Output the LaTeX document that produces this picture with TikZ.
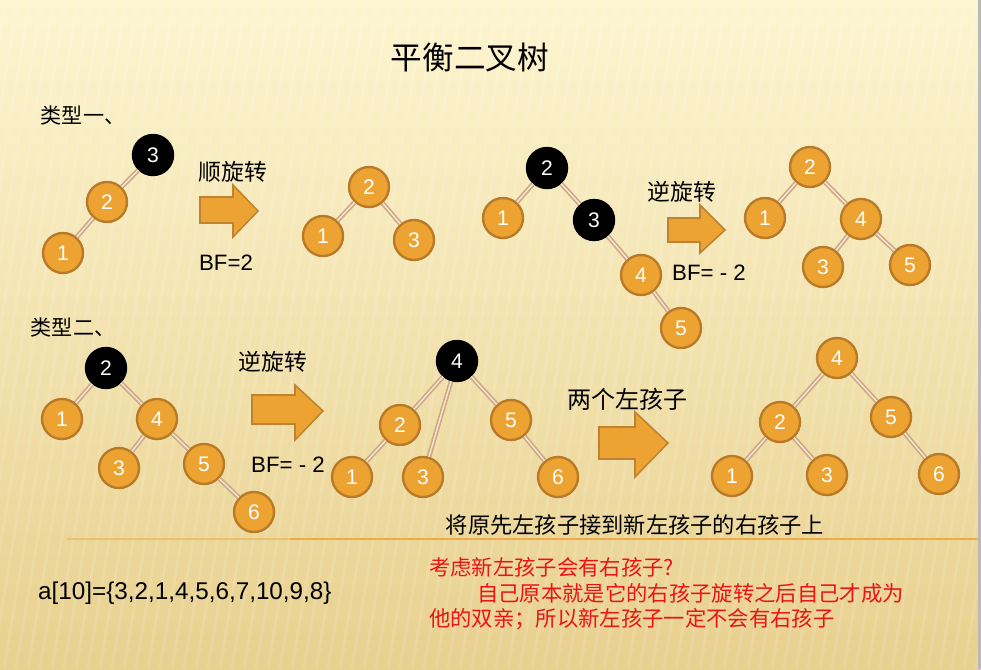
\documentclass[tikz,border=0pt]{standalone}
\usepackage{fontspec}
\setmainfont{Liberation Sans}
\newfontfamily\cjk{Noto Sans CJK SC}
\definecolor{bgtop}{RGB}{253,245,208}
\definecolor{bgbot}{RGB}{232,208,142}
\definecolor{nodeor}{RGB}{237,163,50}
\definecolor{nodebd}{RGB}{184,122,40}
\definecolor{linktan}{RGB}{205,168,130}
\definecolor{linklt}{RGB}{245,230,215}
\definecolor{arrbd}{RGB}{190,130,50}
\definecolor{rulecol}{RGB}{240,172,70}
\definecolor{redtxt}{RGB}{235,20,20}
\begin{document}
\begin{tikzpicture}[x=0.03cm,y=-0.03cm,
  nd/.style={circle, minimum size=1.2cm, inner sep=0pt, fill=nodeor, draw=nodebd,
    line width=2pt, text=white, font=\fontsize{18}{20}\selectfont},
  bn/.style={nd, fill=black, draw=black},
  lk/.style={draw=linktan, line width=1.4pt, double=linklt, double distance=1.2pt},
  bigarr/.style={fill=nodeor, draw=arrbd, line width=1.3pt, line join=miter},
  cjklab/.style={font=\cjk\fontsize{19.5}{22}\selectfont, inner sep=0pt},
  bflab/.style={font=\fontsize{19}{22}\selectfont, inner sep=0pt},
  redlab/.style={font=\cjk\fontsize{18.2}{21}\selectfont, text=redtxt, inner sep=0pt, anchor=west}]
\useasboundingbox (0,0) rectangle (981,669);
% background
\shade[top color=bgtop, bottom color=bgbot] (0,0) rectangle (981,669);
\begin{scope}
\clip (0,0) rectangle (978,669);
\foreach \i in {-200,-188,...,1000}
  \draw[white, opacity=0.13, line width=2.5pt] (\i,669) -- (\i+110,0);
\end{scope}
\fill[gray!55] (978,0) rectangle (981,669);

% title and labels
\node[font=\cjk\fontsize{27}{31}\selectfont, inner sep=0pt] (title) at (470,57) {平衡二叉树};
\node[font=\cjk\fontsize{18}{21}\selectfont, inner sep=0pt] (type1) at (83,115) {类型一、};
\node[font=\cjk\fontsize{18}{21}\selectfont, inner sep=0pt] (type2) at (73,327) {类型二、};

% ---------- tree A (before right rotation)
\node[bn] (a3) at (153,155) {3};
\node[nd] (a2) at (107,202) {2};
\node[nd] (a1) at (63,253) {1};
\draw[lk] (a3) -- (a2);
\draw[lk] (a2) -- (a1);

% arrow 1
\draw[bigarr] (200,197) -- (233,197) -- (233,185) -- (258,211) -- (233,237) -- (233,223) -- (200,223) -- cycle;
\node[cjklab] (rot1) at (233,172) {顺旋转};
\node[bflab] (bf1) at (226,263) {BF=2};

% ---------- tree B
\node[nd] (b2) at (369,187) {2};
\node[nd] (b1) at (323,236) {1};
\node[nd] (b3) at (414,240) {3};
\draw[lk] (b2) -- (b1);
\draw[lk] (b2) -- (b3);

% ---------- tree C
\node[bn] (c2) at (547,168) {2};
\node[nd] (c1) at (503,218) {1};
\node[bn] (c3) at (594,220) {3};
\node[nd] (c4) at (641,275) {4};
\node[nd] (c5) at (681,328) {5};
\draw[lk] (c2) -- (c1);
\draw[lk] (c2) -- (c3);
\draw[lk] (c3) -- (c4);
\draw[lk] (c4) -- (c5);

% arrow 2
\draw[bigarr] (668,218) -- (700,218) -- (700,205) -- (725,230) -- (700,253) -- (700,242) -- (668,242) -- cycle;
\node[cjklab] (rot2) at (682,192) {逆旋转};
\node[bflab] (bf2) at (709,273) {BF= - 2};

% ---------- tree D
\node[nd] (d2) at (810,167) {2};
\node[nd] (d1) at (765,218) {1};
\node[nd] (d4) at (861,219) {4};
\node[nd] (d3) at (823,267) {3};
\node[nd] (d5) at (910,265) {5};
\draw[lk] (d2) -- (d1);
\draw[lk] (d2) -- (d4);
\draw[lk] (d4) -- (d3);
\draw[lk] (d4) -- (d5);

% ---------- tree E
\node[bn] (e2) at (106,368) {2};
\node[nd] (e1) at (62,419) {1};
\node[nd] (e4) at (157,419) {4};
\node[nd] (e3) at (119,468) {3};
\node[nd] (e5) at (204,464) {5};
\node[nd] (e6) at (254,512) {6};
\draw[lk] (e2) -- (e1);
\draw[lk] (e2) -- (e4);
\draw[lk] (e4) -- (e3);
\draw[lk] (e4) -- (e5);
\draw[lk] (e5) -- (e6);

% arrow 3
\draw[bigarr] (252,395) -- (295,395) -- (295,385) -- (323,411) -- (295,440) -- (295,424) -- (252,424) -- cycle;
\node[cjklab] (rot3) at (273,362) {逆旋转};
\node[bflab] (bf3) at (288,465) {BF= - 2};

% ---------- tree F
\node[bn] (f4) at (457,361) {4};
\node[nd] (f2) at (400,425) {2};
\node[nd] (f5) at (511,420) {5};
\node[nd] (f1) at (352,477) {1};
\node[nd] (f3) at (423,477) {3};
\node[nd] (f6) at (558,477) {6};
\draw[lk] (f4) -- (f2);
\draw[lk] (f4) -- (f3);
\draw[lk] (f4) -- (f5);
\draw[lk] (f2) -- (f1);
\draw[lk] (f5) -- (f6);

% arrow 4
\node[font=\cjk\fontsize{20.5}{24}\selectfont, inner sep=0pt, anchor=west] (two) at (567,399) {两个左孩子};
\draw[bigarr] (599,427) -- (635,427) -- (635,412) -- (668,443) -- (635,477) -- (635,459) -- (599,459) -- cycle;

% ---------- tree G
\node[nd] (g4) at (837,358) {4};
\node[nd] (g2) at (780,422) {2};
\node[nd] (g5) at (891,417) {5};
\node[nd] (g1) at (732,476) {1};
\node[nd] (g3) at (827,475) {3};
\node[nd] (g6) at (939,474) {6};
\draw[lk] (g4) -- (g2);
\draw[lk] (g4) -- (g5);
\draw[lk] (g2) -- (g1);
\draw[lk] (g2) -- (g3);
\draw[lk] (g5) -- (g6);

% note and rule
\node[font=\cjk\fontsize{19}{22}\selectfont, inner sep=0pt] (note) at (635,525) {将原先左孩子接到新左孩子的右孩子上};
\coordinate (ruleA) at (67,539);
\coordinate (ruleB) at (290,539);
\coordinate (ruleC) at (978,539);
\draw[rulecol!45!bgbot, line width=1.2pt] (ruleA) -- (ruleB);
\draw[rulecol, line width=1.2pt] (ruleB) -- (ruleC);

% bottom texts
\node[font=\fontsize{20.7}{24}\selectfont, inner sep=0pt, anchor=west] (arr) at (38,593) {a[10]=\{3,2,1,4,5,6,7,10,9,8\}};
\node[redlab] (q1) at (429,567) {考虑新左孩子会有右孩子?};
\node[redlab] (q2) at (477,593) {自己原本就是它的右孩子旋转之后自己才成为};
\node[redlab] (q3) at (429,619) {他的双亲；所以新左孩子一定不会有右孩子};
\end{tikzpicture}
\end{document}
